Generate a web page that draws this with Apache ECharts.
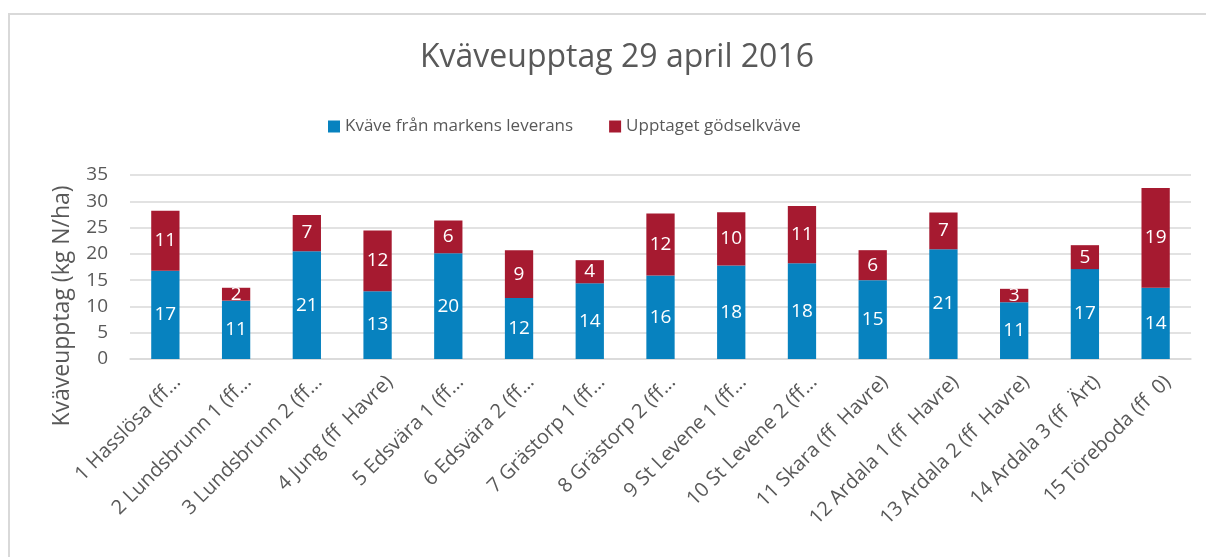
<!DOCTYPE html>
<html>
<head>
<meta charset="utf-8">
<script src="https://cdn.jsdelivr.net/npm/echarts@6/dist/echarts.min.js"></script>
<style>
  html, body { margin: 0; padding: 0; background: #ffffff; }
  #chart { width: 1206px; height: 557px; }
</style>
</head>
<body>
<div id="chart"></div>
<script>
// Fältnamn som de visas (avkortade) under staplarna
const categories = [
  '1 Hasslösa (ff...', '2 Lundsbrunn 1 (ff...', '3 Lundsbrunn 2 (ff...', '4 Jung (ff  Havre)',
  '5 Edsvära 1 (ff...', '6 Edsvära 2 (ff...', '7 Grästorp 1 (ff...', '8 Grästorp 2 (ff...',
  '9 St Levene 1 (ff...', '10 St Levene 2 (ff...', '11 Skara (ff  Havre)', '12 Ardala 1 (ff  Havre)',
  '13 Ardala 2 (ff  Havre)', '14 Ardala 3 (ff  Ärt)', '15 Töreboda (ff  0)'
]

// kg N/ha
const markensLeverans = [16.8, 11.1, 20.5, 12.9, 20.1, 11.6, 14.4, 15.9, 17.8, 18.2, 15.0, 20.9, 10.8, 17.1, 13.55]
const godselkvave     = [11.4, 2.45, 6.9, 11.55, 6.25, 9.1, 4.4, 11.8, 10.1, 10.9, 5.7, 6.95, 2.55, 4.55, 19.0]

const seriesNames = ['Kväve från markens leverans', 'Upptaget gödselkväve']
const seriesColors = ['#0782bf', '#a61a30']

const FONT = 'Open Sans'
const GREY = '#595959'

let chart = echarts.init(document.getElementById('chart'), null, { renderer: 'canvas' })

function barSeries(name, data, color) {
    return {
        name: name,
        type: 'bar',
        stack: 'total',
        data: data,
        barWidth: '40%',
        itemStyle: { color: color },
        label: {
            show: true,
            position: 'inside',
            color: '#ffffff',
            fontFamily: FONT,
            fontSize: 19,
            formatter: (p) => Math.round(p.value)
        }
    }
}

let options = {
    animation: false,
    textStyle: { fontFamily: FONT },
    graphic: [{
        type: 'rect',
        shape: { x: 9, y: 14, width: 1220, height: 560 },
        style: { fill: 'none', stroke: '#d9d9d9', lineWidth: 2 }
    }],
    title: {
        text: 'Kväveupptag 29 april 2016',
        left: 415,
        top: 37,
        textStyle: { color: GREY, fontFamily: FONT, fontSize: 32, fontWeight: 'normal' }
    },
    legend: {
        top: 113,
        left: 323,
        itemWidth: 12,
        itemHeight: 12,
        itemGap: 36,
        icon: 'rect',
        textStyle: { color: GREY, fontFamily: FONT, fontSize: 17 },
        data: seriesNames
    },
    grid: {
        left: 130,
        right: 15,
        top: 175,
        bottom: 198,
        containLabel: false
    },
    xAxis: {
        type: 'category',
        data: categories,
        axisTick: { show: false },
        axisLine: { lineStyle: { color: '#d9d9d9', width: 1.5 } },
        axisLabel: {
            interval: 0,
            rotate: 45,
            margin: 32,
            padding: [0, -17, 0, 0],
            color: GREY,
            fontFamily: FONT,
            fontSize: 20
        }
    },
    yAxis: {
        type: 'value',
        min: 0,
        max: 35,
        interval: 5,
        name: 'Kväveupptag (kg N/ha)',
        nameLocation: 'middle',
        nameRotate: 90,
        nameGap: 56,
        nameTextStyle: { color: GREY, fontFamily: FONT, fontSize: 23, padding: [0, 78, 0, 0] },
        axisLine: { show: false },
        axisTick: { show: false },
        axisLabel: { color: GREY, fontFamily: FONT, fontSize: 19, margin: 22 },
        splitLine: { lineStyle: { color: '#d9d9d9', width: 1.5 } }
    },
    series: [
        barSeries(seriesNames[0], markensLeverans, seriesColors[0]),
        barSeries(seriesNames[1], godselkvave, seriesColors[1])
    ]
}

chart.setOption(options)
</script>
</body>
</html>
